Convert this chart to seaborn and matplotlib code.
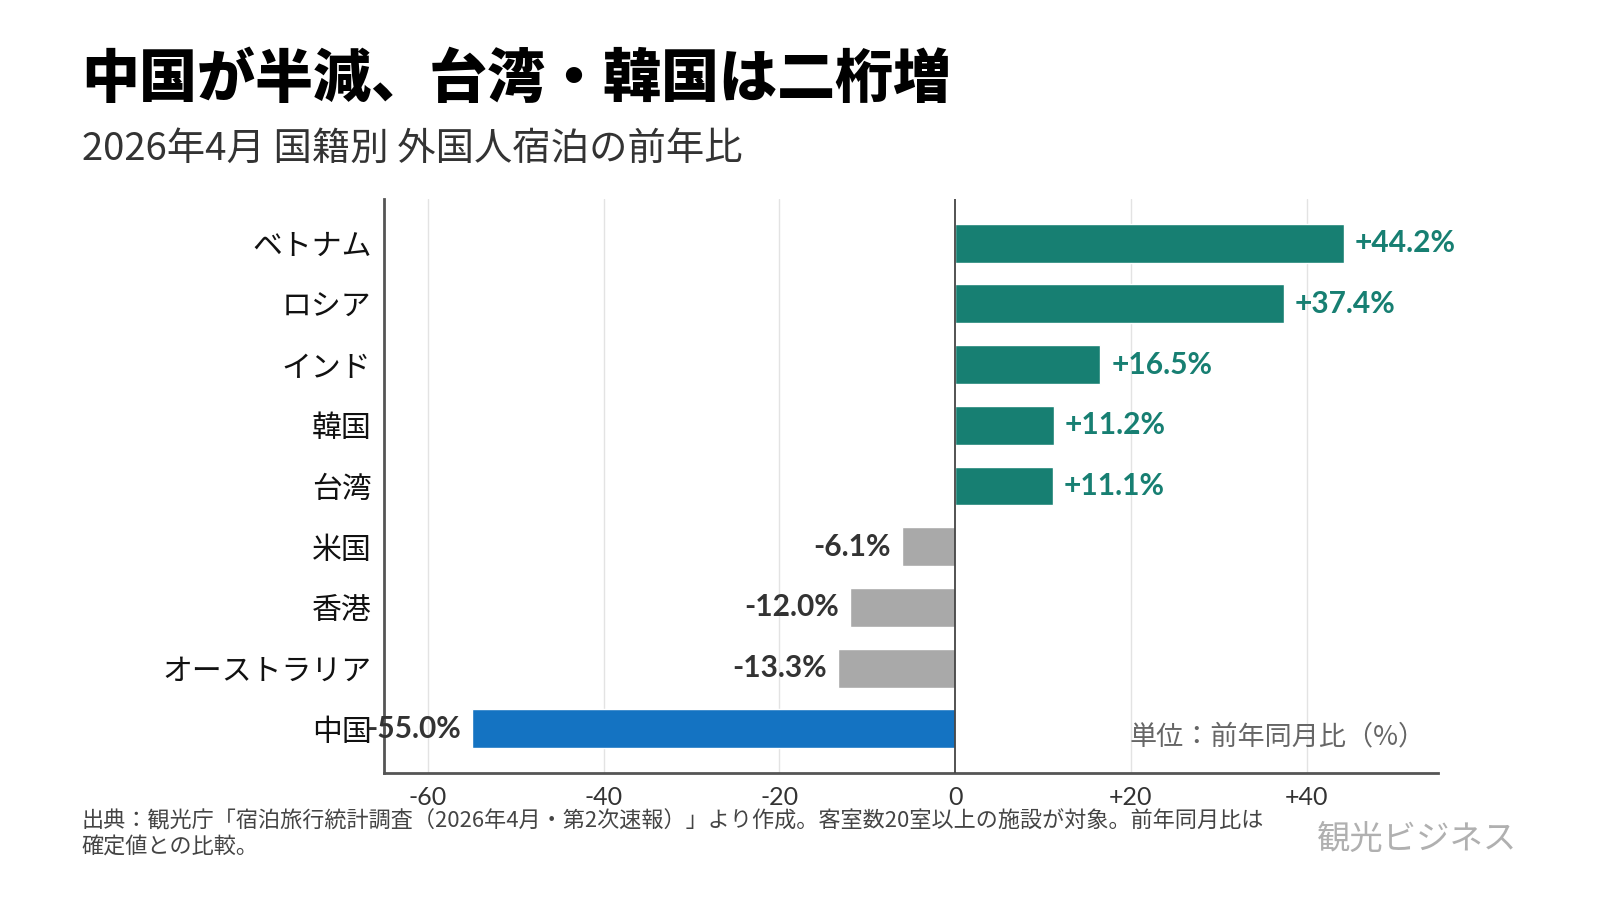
import matplotlib
matplotlib.use('Agg')
import matplotlib.pyplot as plt
import seaborn as sns
import pandas as pd

countries = ['ベトナム', 'ロシア', 'インド', '韓国', '台湾', '米国', '香港', 'オーストラリア', '中国']
values = [44.2, 37.4, 16.5, 11.2, 11.1, -6.1, -12.0, -13.3, -55.0]
xticks = [-60, -40, -20, 0, 20, 40]
xticklabels = ['-60', '-40', '-20', '0', '+20', '+40']

TEAL = '#177F72'
GRAY = '#A9A9A9'
BLUE = '#1473C2'
DARK = '#333333'

colors = [BLUE if c == '中国' else (TEAL if v > 0 else GRAY) for c, v in zip(countries, values)]
df = pd.DataFrame({'country': countries, 'value': values})

sns.set_theme(style='white')
plt.rcParams['font.family'] = ['Lato', 'Noto Sans CJK JP', 'DejaVu Sans']

fig = plt.figure(figsize=(16, 9), dpi=100)
ax = fig.add_axes([0.24, 0.141, 0.659, 0.638])

sns.barplot(data=df, x='value', y='country', hue='country', palette=colors,
            legend=False, width=0.64, saturation=1, ax=ax)

ax.set_xlim(-65, 55)
ax.set_ylim(8.73, -0.73)
ax.set_xticks(xticks)
ax.set_xticklabels(xticklabels)
ax.set_xlabel('')
ax.set_ylabel('')

# グリッド線と0の縦線
for x in xticks:
    if x != 0:
        ax.axvline(x, color='#E3E3E3', lw=1, zorder=0)
ax.axvline(0, color='#444444', lw=1.3, zorder=3)

for s in ['top', 'right']:
    ax.spines[s].set_visible(False)
for s in ['left', 'bottom']:
    ax.spines[s].set_color('#555555')
    ax.spines[s].set_linewidth(2)

ax.tick_params(axis='x', length=0, pad=9, labelsize=18, labelcolor=DARK)
ax.tick_params(axis='y', length=0, pad=9, labelsize=21.5, labelcolor='#111111')
for lab in ax.get_yticklabels():
    lab.set_family(['Noto Sans CJK JP', 'DejaVu Sans'])

# 値ラベル
for i, v in enumerate(values):
    if v > 0:
        ax.annotate(f'+{v:.1f}%', (v, i), xytext=(8, 0), textcoords='offset points',
                    ha='left', va='center', fontsize=21.5, fontweight='bold', color=TEAL)
    else:
        ax.annotate(f'{v:.1f}%', (v, i), xytext=(-8, 0), textcoords='offset points',
                    ha='right', va='center', fontsize=21.5, fontweight='bold', color=DARK)

ax.text(0.988, 0.063, '単位：前年同月比（%）', transform=ax.transAxes, ha='right', va='center',
        fontsize=19.5, color='#666666', family=['Noto Sans CJK JP', 'DejaVu Sans'])

fig.text(0.051, 1 - 50 / 900, '中国が半減、台湾・韓国は二桁増', ha='left', va='top',
         fontsize=41.8, fontweight='black', color='#000000', family=['Noto Sans CJK JP'])
fig.text(0.051, 1 - 130 / 900, '2026年4月 国籍別 外国人宿泊の前年比', ha='left', va='top',
         fontsize=27.6, color='#333333', family=['Noto Sans CJK JP'])
fig.text(0.051, 1 - 810 / 900,
         '出典：観光庁「宿泊旅行統計調査（2026年4月・第2次速報）」より作成。客室数20室以上の施設が対象。前年同月比は\n確定値との比較。',
         ha='left', va='top', fontsize=15.9, color='#444444', linespacing=1.2,
         family=['Noto Sans CJK JP'])
fig.text(0.886, 1 - 839 / 900, '観光ビジネス', ha='center', va='center', fontsize=24,
         color='#B0B0B0', family=['Noto Sans CJK JP'])

fig.savefig('out.png', dpi=100, facecolor='white')
